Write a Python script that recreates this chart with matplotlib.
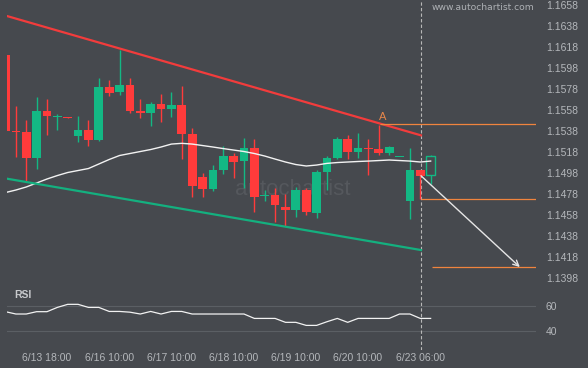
import matplotlib.pyplot as plt

# 4h candles, index 0..41
opens = [1.1610, 1.1538, 1.1537, 1.1512, 1.1557, 1.1551, 1.1551, 1.1533, 1.1539, 1.1529,
         1.1580, 1.1575, 1.1582, 1.1557, 1.1555, 1.1564, 1.1559, 1.1563, 1.1535, 1.1494,
         1.1483, 1.1501, 1.1514, 1.1509, 1.1522, 1.1476, 1.1477, 1.1466, 1.1463, 1.1482,
         1.1460, 1.1499, 1.1512, 1.1530, 1.1518, 1.1522, 1.1521, 1.1517, 1.1513, 1.1471,
         1.1501, 1.1496]
highs = [1.1611, 1.1562, 1.1548, 1.1570, 1.1568, 1.1554, 1.1551, 1.1552, 1.1548, 1.1588,
         1.1587, 1.1615, 1.1588, 1.1568, 1.1566, 1.1573, 1.1575, 1.1581, 1.1541, 1.1498,
         1.1506, 1.1524, 1.1517, 1.1531, 1.1530, 1.1482, 1.1484, 1.1478, 1.1485, 1.1484,
         1.1501, 1.1514, 1.1532, 1.1534, 1.1536, 1.1530, 1.1544, 1.1524, 1.1513, 1.1522,
         1.1501, 1.1515]
lows = [1.1537, 1.1513, 1.1490, 1.1502, 1.1534, 1.1539, 1.1550, 1.1527, 1.1524, 1.1528,
        1.1571, 1.1572, 1.1555, 1.1550, 1.1543, 1.1547, 1.1551, 1.1511, 1.1475, 1.1475,
        1.1481, 1.1497, 1.1493, 1.1484, 1.1461, 1.1471, 1.1451, 1.1447, 1.1456, 1.1458,
        1.1455, 1.1482, 1.1511, 1.1511, 1.1512, 1.1496, 1.1515, 1.1515, 1.1513, 1.1454,
        1.1473, 1.1487]
closes = [1.1538, 1.1537, 1.1512, 1.1557, 1.1552, 1.1552, 1.1550, 1.1539, 1.1529, 1.1580,
          1.1574, 1.1582, 1.1557, 1.1555, 1.1564, 1.1559, 1.1563, 1.1535, 1.1486, 1.1483,
          1.1501, 1.1514, 1.1508, 1.1522, 1.1475, 1.1477, 1.1467, 1.1463, 1.1482, 1.1461,
          1.1499, 1.1512, 1.1530, 1.1518, 1.1522, 1.1521, 1.1517, 1.1523, 1.1513, 1.1501,
          1.1495, 1.1514]
# moving average (white line)
ma = [1.14793, 1.14817, 1.14846, 1.14884, 1.14922, 1.14955, 1.14984, 1.15003, 1.15022, 1.15065,
      1.15108, 1.15146, 1.15165, 1.15184, 1.15203, 1.15227, 1.15255, 1.15262, 1.15255, 1.15241,
      1.15227, 1.15212, 1.15198, 1.15184, 1.15165, 1.15141, 1.15112, 1.15084, 1.15060, 1.15046,
      1.15055, 1.15071, 1.15079, 1.15084, 1.15089, 1.15093, 1.15098, 1.15103, 1.15098, 1.15093,
      1.15084, 1.15093]
rsi = [55.4, 53.5, 53.5, 55.4, 55.4, 58.9, 61.4, 61.4, 58.9, 58.9,
       55.6, 55.6, 55.0, 53.5, 55.6, 53.5, 55.6, 55.6, 53.5, 53.5,
       53.5, 53.5, 53.5, 53.5, 49.9, 49.9, 49.9, 46.7, 46.7, 44.2,
       44.2, 47.2, 49.9, 46.7, 49.9, 49.9, 49.9, 49.9, 53.5, 53.5,
       49.9, 49.9]

price_ticks = [1.1658, 1.1638, 1.1618, 1.1598, 1.1578, 1.1558, 1.1538, 1.1518,
               1.1498, 1.1478, 1.1458, 1.1438, 1.1418, 1.1398]
time_pos = [4, 10, 16, 22, 28, 34, 40]
time_labels = ['6/13 18:00', '6/16 10:00', '6/17 10:00', '6/18 10:00',
               '6/19 10:00', '6/20 10:00', '6/23 06:00']

# channel lines (index, price)
upper_x = [0.15, 40.07]
upper_y = [1.16475, 1.15338]
lower_x = [0.15, 40.07]
lower_y = [1.14925, 1.14245]

# pattern levels
point_a = (36.1, 1.15443)
breakout = (40.07, 1.14728)
target = (41.1, 1.14080)
arrow_start = (40.07, 1.14953)
arrow_end = (49.6, 1.14083)
now_idx = 40.07

bg = '#46494e'
red = '#ff3b3b'
green = '#13b884'
orange = '#f0843e'
txt = '#b4b7bb'

W, H = 588, 368
fig = plt.figure(figsize=(5.88, 3.68), dpi=100, facecolor=bg)
xl = (0.145, 51.16)

ax = fig.add_axes([7 / W, (H - 283) / H, 529 / W, 283 / H], facecolor=bg)
ax.set_xlim(*xl)
ax.set_ylim(1.13931, 1.16628)

# candles
for i in range(len(opens)):
    o, h, l, c = opens[i], highs[i], lows[i], closes[i]
    col = green if c >= o else red
    ax.vlines(i, l, h, color=col, lw=1.0, zorder=3)
    bot = min(o, c)
    ht = max(abs(c - o), 0.00009)
    if i == len(opens) - 1:
        ax.bar(i, ht, bottom=bot, width=0.84, facecolor=bg, edgecolor=col,
               lw=1.0, zorder=4)
    else:
        ax.bar(i, ht, bottom=bot, width=0.84, color=col, lw=0, zorder=4)

ax.plot(range(len(ma)), ma, color='#f2f2f2', lw=1.0, zorder=5)
ax.plot(upper_x, upper_y, color='#f23c3c', lw=1.6, zorder=6)
ax.plot(lower_x, lower_y, color='#14b07f', lw=1.6, zorder=6)

# pattern overlay
ax.hlines(point_a[1], point_a[0], xl[1], color=orange, lw=0.9, zorder=6)
ax.hlines(breakout[1], breakout[0], xl[1], color=orange, lw=0.9, zorder=6)
ax.hlines(target[1], target[0], xl[1], color=orange, lw=0.9, zorder=6)
ax.text(point_a[0] + 0.25, point_a[1] + 0.0002, 'A', color='#e8874a', fontsize=8,
        ha='center', va='bottom', family='Liberation Sans', zorder=7)
ax.annotate('', xy=arrow_end, xytext=arrow_start,
            arrowprops=dict(arrowstyle='->', color='#e6e6e6', lw=1.0,
                            shrinkA=0, shrinkB=0), zorder=7)
ax.axvline(now_idx, color='#b8b8b8', lw=0.8, ls=(0, (3, 2)), zorder=2)

# watermarks
ax.text(27.7, 1.14822, 'autochartist', color='#55585d', fontsize=16,
        ha='center', va='center', family='Liberation Sans', zorder=1)
ax.text(51.0, 1.16600, 'www.autochartist.com', color='#aeb1b5', fontsize=6.6,
        ha='right', va='top', zorder=7)

ax.set_xticks([])
ax.yaxis.tick_right()
ax.set_yticks(price_ticks)
ax.set_yticklabels([f'{p:.4f}' for p in price_ticks], family='Liberation Sans',
                   fontsize=7.5, color=txt)
ax.tick_params(axis='y', length=0, pad=7)
for s in ax.spines.values():
    s.set_visible(False)

# RSI panel
ax2 = fig.add_axes([7 / W, 18 / H, 529 / W, 65 / H], facecolor=bg)
ax2.set_xlim(*xl)
ax2.set_ylim(24.1, 77.2)
ax2.axhline(60, color='#5b5f64', lw=0.8)
ax2.axhline(40, color='#5b5f64', lw=0.8)
ax2.plot(range(len(rsi)), rsi, color='#f2f2f2', lw=0.9)
ax2.axvline(now_idx, color='#b8b8b8', lw=0.8, ls=(0, (3, 2)))
ax2.text(0.8, 69, 'RSI', color='#c8cacd', fontsize=7.5, fontweight='bold',
         family='Liberation Sans', va='center')
ax2.yaxis.tick_right()
ax2.set_yticks([60, 40])
ax2.set_yticklabels(['60', '40'], family='Liberation Sans', fontsize=7.5, color=txt)
ax2.set_xticks(time_pos)
ax2.set_xticklabels(time_labels, family='Liberation Sans', fontsize=7.5, color=txt)
ax2.tick_params(length=0)
ax2.tick_params(axis='y', pad=7)
ax2.tick_params(axis='x', pad=2)
for s in ax2.spines.values():
    s.set_visible(False)

fig.savefig('out.png', dpi=100, facecolor=bg)
